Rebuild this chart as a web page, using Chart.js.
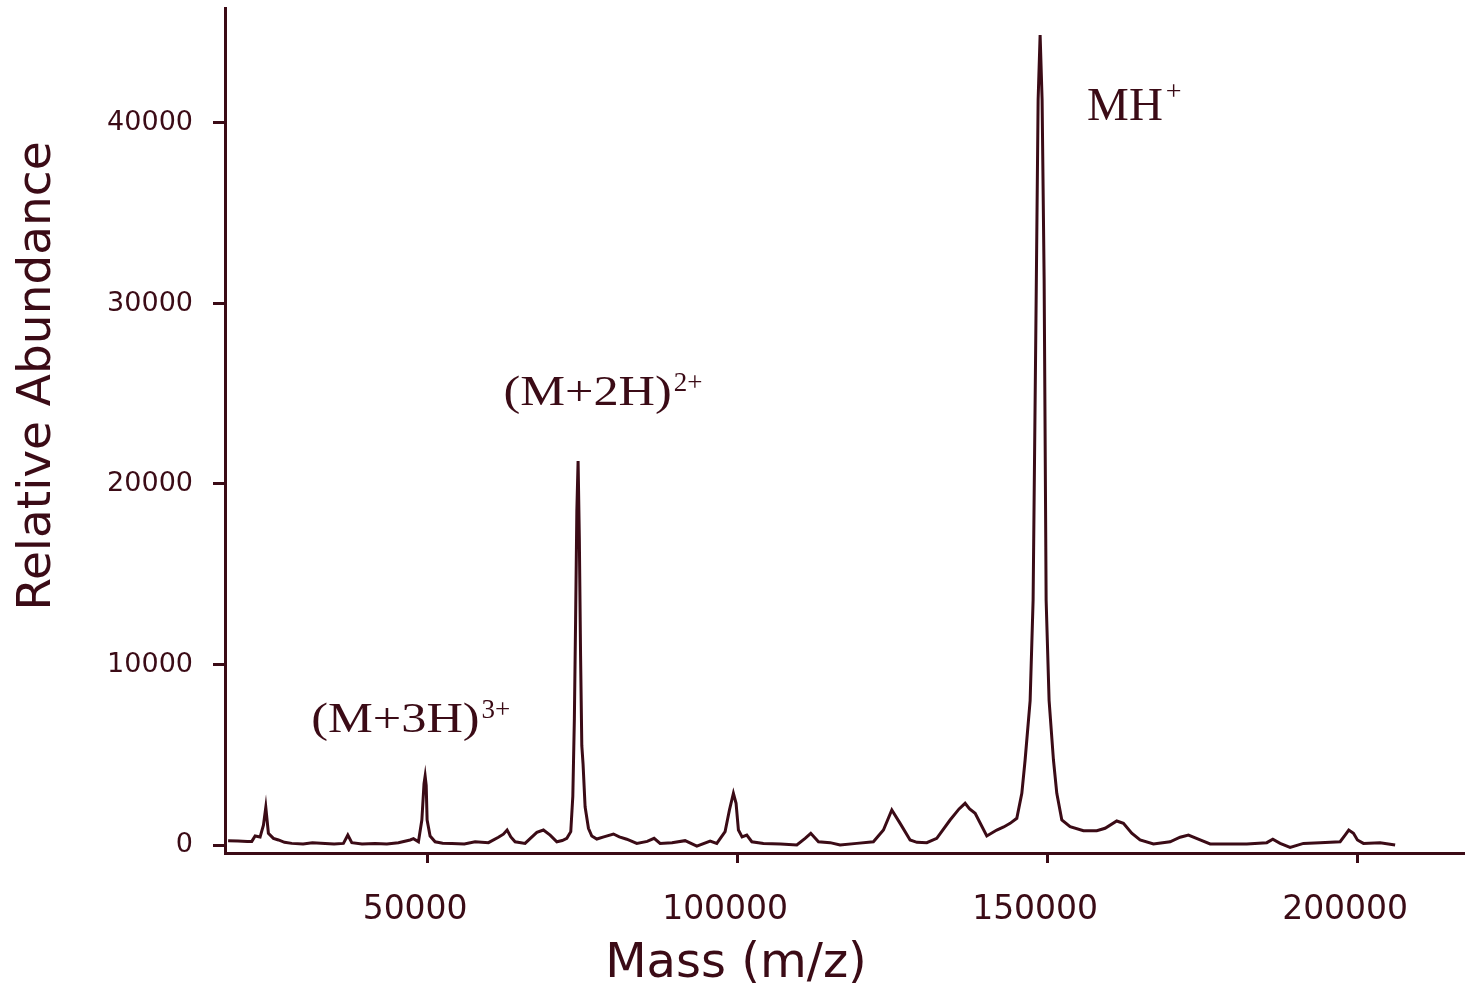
<!DOCTYPE html>
<html><head><meta charset="utf-8">
<style>html,body{margin:0;padding:0;background:#fff;overflow:hidden}#wrap{width:1465px;height:995px;position:relative}</style>
<script src="https://cdn.jsdelivr.net/npm/chart.js@4.4.1/dist/chart.umd.min.js"></script>
</head><body><div id="wrap"><canvas id="c" width="1465" height="995"></canvas></div>
<script>
// ---- data ----
const masses = [17900,19500,21000,21720,22260,23060,23600,23980,24150,24400,25210,26020,27000,28170,30000,31500,33550,35000,36500,37210,37850,39500,41610,43500,45370,47260,47800,48600,49150,49500,49680,49850,50000,50480,51290,52500,53980,56000,57740,59890,61500,62300,62900,63500,64190,65800,66610,67700,68760,69840,70920,71800,72530,73170,73500,73750,73950,74150,74350,74550,74750,74950,75150,75480,76020,76560,77370,78500,80050,81000,82200,83820,85500,86610,87580,89500,91610,93500,95650,96720,98060,98760,99400,99830,100210,100800,101560,102370,104250,107000,109630,110970,111880,113120,115000,116610,119300,121980,123600,124950,126290,127900,129000,130590,132200,134350,135800,136770,137500,138390,140270,141880,143000,144030,145110,145920,146450,147260,147740,148230,148550,148870,149190,149520,149840,150320,151020,151560,152370,153710,155860,158010,159350,161230,162310,163650,164990,167150,169840,171450,172790,174680,176290,179000,182200,185430,186400,187580,189190,191340,194030,197260,198060,198650,199410,200050,201020,203710,206130];
const abundance = [240,220,200,200,500,440,1100,2090,1500,650,370,280,150,90,60,120,90,60,90,550,130,60,90,60,130,280,350,180,1385,3400,3820,3300,1385,500,180,100,90,60,180,130,430,600,830,450,180,90,350,700,830,550,180,250,370,740,2700,7000,12500,18500,21270,17000,10500,5500,4500,2120,925,500,330,450,610,450,320,90,200,370,90,120,240,-60,220,90,740,1940,2860,2310,830,450,550,180,90,60,0,370,650,180,130,0,90,180,830,1940,1200,280,150,130,370,1385,2000,2310,2000,1760,500,830,1000,1200,1480,2860,4710,8000,13570,30200,41300,44870,41300,31300,13570,8000,4710,2860,1385,1015,790,790,925,1330,1200,650,280,55,180,430,550,280,55,55,55,130,320,90,-130,90,130,180,550,830,650,280,90,130,0];
const xTickValues = [50000,100000,150000,200000];
const yTickValues = [0,10000,20000,30000,40000];
const xTitle = 'Mass (m/z)';
const yTitle = 'Relative Abundance';
const peakNames = ['(M+3H)', '(M+2H)', 'MH'];
const peakCharges = ['3+', '2+', '+'];

// ---- presentation ----
const INK = '#3b0b16';
const annot = [
  {mass: 31300, ab: 6260, size: 42, sx: 1.2, supSize: 27, supDx: 2, supRaise: 14},
  {mass: 62300, ab: 24380, size: 42, sx: 1.2, supSize: 27, supDx: 2, supRaise: 14},
  {mass: 156450, ab: 40160, size: 47, sx: 1.0, supSize: 28, supDx: 3, supRaise: 20}
];

const overlay = {
  id: 'overlay',
  afterDraw(chart) {
    const ctx = chart.ctx, xs = chart.scales.x, ys = chart.scales.y;
    ctx.save();
    ctx.fillStyle = INK;
    ctx.save();
    ctx.font = '47px "DejaVu Sans"';
    ctx.textAlign = 'center'; ctx.textBaseline = 'middle';
    ctx.translate(38, 376); ctx.rotate(-Math.PI / 2);
    ctx.fillText(yTitle, 0, 0);
    ctx.restore();
    ctx.font = '48px "DejaVu Sans"';
    ctx.textAlign = 'center'; ctx.textBaseline = 'middle';
    ctx.fillText(xTitle, 736, 965);
    ctx.textAlign = 'left'; ctx.textBaseline = 'alphabetic';
    peakNames.forEach((name, i) => {
      const a = annot[i];
      const px = xs.getPixelForValue(a.mass), py = ys.getPixelForValue(a.ab);
      ctx.save();
      ctx.translate(px, py); ctx.scale(a.sx, 1);
      ctx.font = a.size + 'px "Liberation Serif"';
      ctx.fillText(name, 0, 0);
      const w = ctx.measureText(name).width;
      ctx.restore();
      ctx.font = a.supSize + 'px "Liberation Serif"';
      ctx.fillText(peakCharges[i], px + w * a.sx + a.supDx, py - a.supRaise);
    });
    ctx.restore();
  }
};

const points = masses.map((m, i) => ({x: m, y: abundance[i]}));

new Chart(document.getElementById('c'), {
  type: 'line',
  data: {datasets: [{data: points, borderColor: INK, borderWidth: 3, pointRadius: 0, tension: 0, fill: false}]},
  options: {
    responsive: false, animation: false, devicePixelRatio: 1,
    layout: {padding: {top: 8, right: 0, left: 0, bottom: 0}},
    plugins: {legend: {display: false}, tooltip: {enabled: false}},
    scales: {
      x: {
        type: 'linear', min: 17400, max: 217400,
        afterFit(s) { s.height = 142; s.paddingLeft = 0; s.paddingRight = 0; },
        afterBuildTicks(s) { s.ticks = xTickValues.map(v => ({value: v})); },
        grid: {drawOnChartArea: false, drawTicks: true, tickLength: 10, tickWidth: 3, tickColor: INK},
        border: {display: true, color: INK, width: 3},
        ticks: {color: INK, font: {family: 'DejaVu Sans', size: 33}, padding: 28, maxRotation: 0, autoSkip: false, labelOffset: -12, callback: v => String(v)}
      },
      y: {
        type: 'linear', min: -443, max: 46370,
        afterFit(s) { s.width = 225; s.paddingTop = 0; s.paddingBottom = 0; },
        afterBuildTicks(s) { s.ticks = yTickValues.map(v => ({value: v})); },
        grid: {drawOnChartArea: false, drawTicks: true, tickLength: 12, tickWidth: 3, tickColor: INK},
        border: {display: true, color: INK, width: 3},
        ticks: {color: INK, font: {family: 'DejaVu Sans', size: 27}, padding: 20, callback: v => String(v)}
      }
    }
  },
  plugins: [overlay]
});
</script></body></html>
